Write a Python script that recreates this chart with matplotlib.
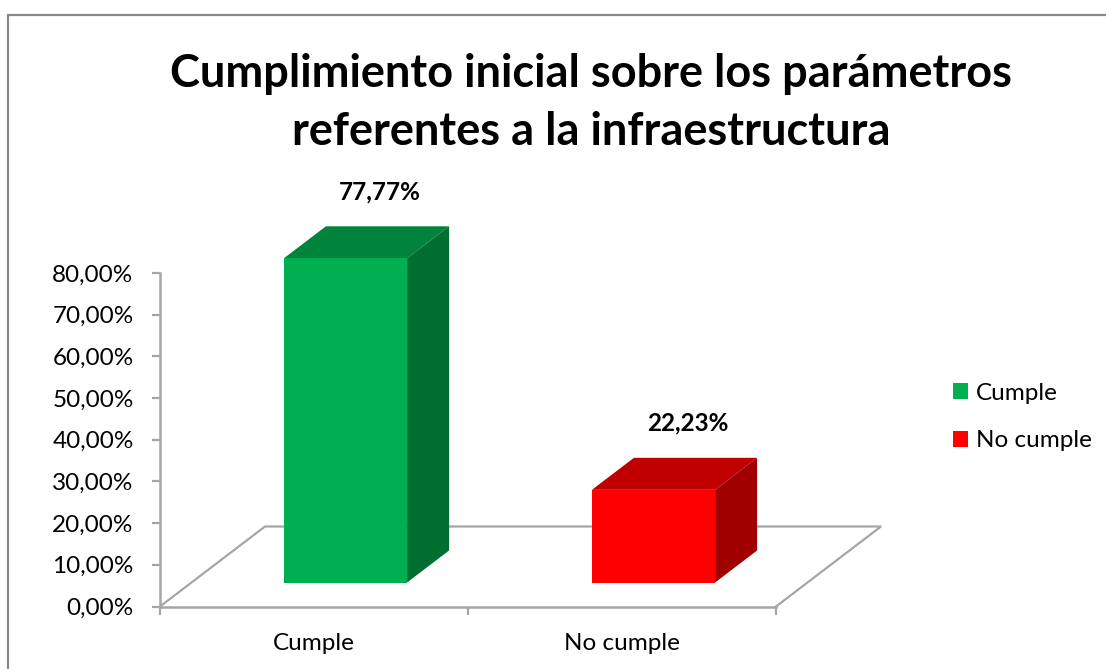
import matplotlib
matplotlib.use("Agg")
import matplotlib.pyplot as plt
from matplotlib.patches import Polygon, Rectangle, Patch

categories = ["Cumple", "No cumple"]
values = [77.77, 22.23]
labels = ["77,77%", "22,23%"]
ytick_vals = [0, 10, 20, 30, 40, 50, 60, 70, 80]
ytick_labels = ["0,00%", "10,00%", "20,00%", "30,00%", "40,00%",
                "50,00%", "60,00%", "70,00%", "80,00%"]
title = "Cumplimiento inicial sobre los parámetros\nreferentes a la infraestructura"

front_col = ["#00B050", "#FF0000"]
top_col = ["#00843C", "#C00000"]
side_col = ["#006E30", "#A00000"]

plt.rcParams["font.family"] = ["Lato", "DejaVu Sans"]

W, H = 1106, 669
fig = plt.figure(figsize=(W / 100, H / 100), dpi=100)

# pixel layout of the plot area
x0_px, px_per_cat = 160, 308
y0_px, px_per_pct = 606.5, 333.5 / 80
xmax, ymax = 2.45, 95
ax = fig.add_axes([x0_px / W, (H - y0_px) / H,
                   xmax * px_per_cat / W, ymax * px_per_pct / H])
ax.set_xlim(0, xmax)
ax.set_ylim(0, ymax)
ax.patch.set_alpha(0)

# oblique depth of floor, in data units
dx = 105 / px_per_cat
dy = 80 / px_per_pct
d0, d1 = 0.3, 0.7
bw = 0.4
grey = "#A6A6A6"
fs = 17.5

# floor
n = len(categories)
ax.plot([0, dx, n + dx, n], [0, dy, dy, 0], color=grey, lw=1.6, zorder=1,
        solid_joinstyle="miter")

for i, v in enumerate(values):
    c = i + 0.5
    xl = c - bw / 2 + d0 * dx
    xr = c + bw / 2 + d0 * dx
    yb = d0 * dy
    yt = yb + v
    ox, oy = (d1 - d0) * dx, (d1 - d0) * dy
    ax.add_patch(Polygon([(xl, yt), (xr, yt), (xr + ox, yt + oy), (xl + ox, yt + oy)],
                         closed=True, facecolor=top_col[i], edgecolor="none", zorder=3))
    ax.add_patch(Polygon([(xr, yb), (xr + ox, yb + oy), (xr + ox, yt + oy), (xr, yt)],
                         closed=True, facecolor=side_col[i], edgecolor="none", zorder=3))
    ax.add_patch(Rectangle((xl, yb), xr - xl, v, facecolor=front_col[i],
                           edgecolor="none", zorder=4))
    ax.text(c + d0 * dx + 0.11, yt + 16, labels[i], ha="center", va="center",
            fontsize=17.5, fontweight="bold", zorder=5)

# axes styling
for s in ["top", "right"]:
    ax.spines[s].set_visible(False)
ax.spines["left"].set_bounds(0, 80)
ax.spines["bottom"].set_bounds(0, n)
for s in ["left", "bottom"]:
    ax.spines[s].set_color(grey)
    ax.spines[s].set_linewidth(1.8)
    ax.spines[s].set_zorder(2)

ax.set_yticks(ytick_vals)
ax.set_yticklabels(ytick_labels)
ax.set_xticks(range(n + 1))
ax.set_xticklabels([])
ax.set_xticks([i + 0.5 for i in range(n)], minor=True)
ax.set_xticklabels(categories, minor=True)
ax.tick_params(axis="y", length=6, width=1.6, color=grey, labelsize=fs, pad=13)
ax.tick_params(axis="x", which="major", length=6, width=1.6, color=grey)
ax.tick_params(axis="x", which="minor", length=0, labelsize=fs, pad=19)

fig.text(591 / W, 1 - 103 / H, title, ha="center", va="center",
         fontsize=32.5, fontweight="bold", linespacing=1.45)

handles = [Patch(facecolor=col, edgecolor="none") for col in front_col]
fig.legend(handles, categories, loc="center left",
           bbox_to_anchor=(936 / W, 1 - 417 / H), frameon=False,
           fontsize=fs, handlelength=0.6, handleheight=0.6,
           handletextpad=0.35, labelspacing=1.1, borderpad=0.2)

# chart border
fig.add_artist(Rectangle((8 / W, -0.1), 1.2, (H - 15) / H + 0.1,
                         transform=fig.transFigure, fill=False,
                         edgecolor="#898989", lw=1.6))

fig.savefig("out.png", dpi=100)
